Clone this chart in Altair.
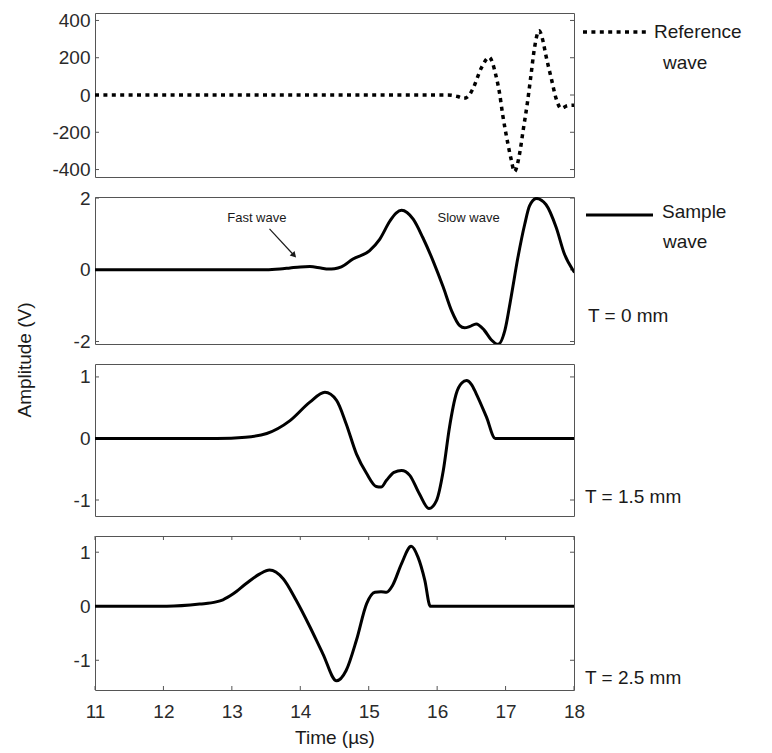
import altair as alt
import pandas as pd

# ---------------- data ----------------
x_ticks = [11, 12, 13, 14, 15, 16, 17, 18]

ref_t = [11.0, 16.15, 16.30, 16.39, 16.46, 16.52, 16.65, 16.76, 16.86, 16.91, 16.96, 17.03,
         17.08, 17.13, 17.20, 17.26, 17.32, 17.37, 17.42, 17.49, 17.54, 17.59, 17.67, 17.74,
         17.81, 17.91, 18.0]
ref_v = [0, 0, -8, -18, -5, 32, 148, 202, 103, 14, -111, -254,
         -343, -411, -325, -182, -39, 103, 246, 345, 300, 211, 86, -21,
         -71, -57, -55]
ref_ticks = [-400, -200, 0, 200, 400]

s0_t = [11.0, 13.5, 13.7, 13.85, 14.0, 14.14, 14.3, 14.41, 14.5, 14.6, 14.77, 15.01, 15.16,
        15.31, 15.40, 15.48, 15.56, 15.65, 15.79, 15.94, 16.09, 16.21, 16.33, 16.40, 16.48,
        16.57, 16.69, 16.79, 16.89, 16.99, 17.08, 17.18, 17.28, 17.35, 17.45, 17.59, 17.74,
        17.86, 18.0]
s0_v = [0, 0, 0.02, 0.05, 0.08, 0.09, 0.05, 0.02, 0.03, 0.08, 0.3, 0.53, 0.85,
        1.36, 1.58, 1.66, 1.6, 1.41, 0.9, 0.25, -0.49, -1.14, -1.56, -1.62, -1.58,
        -1.51, -1.69, -1.95, -2.08, -1.69, -0.77, 0.34, 1.27, 1.78, 1.99, 1.82, 1.18,
        0.44, -0.05]
s0_ticks = [-2, 0, 2]

s15_t = [11.0, 12.78, 13.2, 13.51, 13.85, 14.14, 14.36, 14.53, 14.67, 14.82, 14.97, 15.11,
         15.18, 15.26, 15.37, 15.48, 15.60, 15.74, 15.88, 15.99, 16.09, 16.18, 16.28, 16.36,
         16.43, 16.50, 16.57, 16.72, 16.85, 18.0]
s15_v = [0, 0, 0.02, 0.08, 0.29, 0.59, 0.75, 0.62, 0.24, -0.25, -0.57, -0.78,
         -0.79, -0.68, -0.55, -0.52, -0.6, -0.9, -1.14, -1.01, -0.52, 0.18, 0.73, 0.9,
         0.94, 0.88, 0.73, 0.35, 0.0, 0.0]
s15_ticks = [-1, 0, 1]

s25_t = [11.0, 12.05, 12.53, 12.77, 12.87, 13.02, 13.21, 13.41, 13.55, 13.75, 13.94, 14.14,
         14.33, 14.53, 14.67, 14.82, 14.97, 15.09, 15.18, 15.26, 15.35, 15.48, 15.62, 15.72,
         15.82, 15.90, 18.0]
s25_v = [0, 0, 0.04, 0.08, 0.12, 0.23, 0.42, 0.6, 0.67, 0.51, 0.11, -0.38,
         -0.88, -1.38, -1.19, -0.63, 0.05, 0.26, 0.27, 0.26, 0.39, 0.79, 1.11, 0.91,
         0.48, 0.0, 0.0]
s25_ticks = [-1, 0, 1]

# ---------------- style ----------------
FONT = "Liberation Sans"
W = 479
TICK_LEN = 4
TICK_COLOR = "#555555"
TEXT_COLOR = "#1a1a1a"
LABEL_COLOR = "#2a2a2a"
FS = 19
LABEL_EXPR = "datum.value < 0 ? '-' + abs(datum.value) : '' + datum.value"


def one(**kw):
    return pd.DataFrame({"a": [0], **{k: [v] for k, v in kw.items()}})


def panel(t, v, domain, ticks, height, dashed=False, xaxis=False, extras=()):
    xscale = alt.Scale(domain=[11, 18], nice=False, zero=False)
    yscale = alt.Scale(domain=domain, nice=False, zero=False)
    common = dict(ticks=False, tickSize=0, domain=False, grid=False, labelFlush=False,
                  labelFont=FONT, labelFontSize=FS, labelColor=LABEL_COLOR,
                  labelExpr=LABEL_EXPR)
    if xaxis:
        xax = alt.Axis(values=x_ticks, labelPadding=12, title="Time (µs)", titlePadding=7,
                       titleFont=FONT, titleFontSize=FS, titleFontWeight="normal",
                       titleColor=TEXT_COLOR, **common)
    else:
        xax = None
    yax = alt.Axis(values=ticks, labelPadding=5, title=None, **common)
    X = alt.X("t:Q", scale=xscale, axis=xax)
    Y = alt.Y("v:Q", scale=yscale, axis=yax)

    df = pd.DataFrame({"t": t, "v": v})
    if dashed:
        line = alt.Chart(df).mark_line(color="black", strokeWidth=3.5, strokeDash=[4, 4.4],
                                       interpolate="monotone", clip=True)
    else:
        line = alt.Chart(df).mark_line(color="black", strokeWidth=3, interpolate="monotone",
                                       strokeJoin="round", strokeCap="round", clip=True)
    line = line.encode(x=X, y=Y)

    tdf = pd.DataFrame({"v": ticks})
    lt = alt.Chart(tdf).mark_rule(color=TICK_COLOR, strokeWidth=1).encode(
        y=Y, x=alt.value(0), x2=alt.value(TICK_LEN))
    rt = alt.Chart(tdf).mark_rule(color=TICK_COLOR, strokeWidth=1).encode(
        y=Y, x=alt.value(W - TICK_LEN), x2=alt.value(W))
    layers = [lt, rt]
    if xaxis:
        xdf = pd.DataFrame({"t": x_ticks})
        bt = alt.Chart(xdf).mark_rule(color=TICK_COLOR, strokeWidth=1).encode(
            x=X, y=alt.value(height - TICK_LEN), y2=alt.value(height))
        tt = alt.Chart(xdf).mark_rule(color=TICK_COLOR, strokeWidth=1).encode(
            x=X, y=alt.value(0), y2=alt.value(TICK_LEN))
        layers += [bt, tt]
    layers.append(line)
    for e in extras:
        layers.append(e(X, Y))
    return alt.layer(*layers).properties(width=W, height=height)


def txt(s, x, y, size=FS, align="left", angle=None):
    kw = dict(text=s, font=FONT, fontSize=size, color=TEXT_COLOR, align=align, baseline="middle")
    if angle is not None:
        kw["angle"] = angle
    return lambda X, Y: alt.Chart(one()).mark_text(**kw).encode(x=alt.value(x), y=alt.value(y))


def ref_legend_line(X, Y):
    return alt.Chart(one()).mark_rule(color="black", strokeWidth=3.5, strokeDash=[4, 4.4]).encode(
        x=alt.value(488), x2=alt.value(554), y=alt.value(19))


def sample_legend_line(X, Y):
    return alt.Chart(one()).mark_rule(color="black", strokeWidth=3).encode(
        x=alt.value(491), x2=alt.value(558), y=alt.value(18))


fast_t, fast_v = [13.365], [1.44]
slow_t, slow_v = [16.46], [1.44]
arrow_t, arrow_v = [13.55, 13.90], [1.14, 0.42]


def fast_label(X, Y):
    return alt.Chart(pd.DataFrame({"t": fast_t, "v": fast_v})).mark_text(
        text="Fast wave", font=FONT, fontSize=13, color=TEXT_COLOR, baseline="middle").encode(x=X, y=Y)


def slow_label(X, Y):
    return alt.Chart(pd.DataFrame({"t": slow_t, "v": slow_v})).mark_text(
        text="Slow wave", font=FONT, fontSize=13, color=TEXT_COLOR, baseline="middle").encode(x=X, y=Y)


def arrow_line(X, Y):
    return alt.Chart(pd.DataFrame({"t": arrow_t, "v": arrow_v})).mark_line(
        color=TEXT_COLOR, strokeWidth=1.2).encode(x=X, y=Y)


def arrow_head(X, Y):
    return alt.Chart(pd.DataFrame({"t": arrow_t[-1:], "v": arrow_v[-1:]})).mark_point(
        shape="triangle", filled=True, color=TEXT_COLOR, size=45, angle=137, opacity=1).encode(x=X, y=Y)


p1 = panel(ref_t, ref_v, [-440, 440], ref_ticks, 164, dashed=True,
           extras=[ref_legend_line, txt("Reference", 559, 19), txt("wave", 568, 50)])
p2 = panel(s0_t, s0_v, [-2.07, 2.03], s0_ticks, 147,
           extras=[sample_legend_line, txt("Sample", 567, 15), txt("wave", 568, 45),
                   txt("T = 0 mm", 493, 119), fast_label, slow_label, arrow_line, arrow_head])
p3 = panel(s15_t, s15_v, [-1.26, 1.21], s15_ticks, 152,
           extras=[txt("T = 1.5 mm", 490, 133),
                   txt("Amplitude (V)", -70, -4, align="center", angle=270)])
p4 = panel(s25_t, s25_v, [-1.55, 1.30], s25_ticks, 154, xaxis=True,
           extras=[txt("T = 2.5 mm", 490, 142)])

chart = alt.vconcat(p1, p2, p3, p4, spacing=20, bounds="flush").properties(
    padding={"left": 7, "top": 2, "right": 5, "bottom": 0},
    background="white",
).configure_view(
    stroke="#555555", strokeWidth=1
)

chart.save("out.html", embed_options={"renderer": "svg", "actions": False})
